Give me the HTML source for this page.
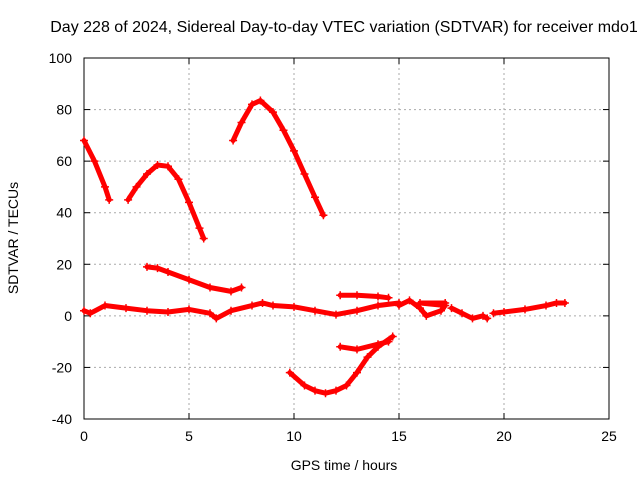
<!DOCTYPE html>
<html><head><meta charset="utf-8"><style>
body{margin:0;background:#fff;}
svg{display:block;font-family:"Liberation Sans",sans-serif;}
</style></head><body>
<svg id="chart" width="640" height="480">
<text x="344" y="32" font-size="16" text-anchor="middle">Day 228 of 2024, Sidereal Day-to-day VTEC variation (SDTVAR) for receiver mdo1</text>
<g id="grid"></g>
<g id="axes"></g>
<g id="series"></g>
<text x="344" y="470" font-size="14" text-anchor="middle">GPS time / hours</text>
<text transform="translate(18,238) rotate(-90)" font-size="14" text-anchor="middle">SDTVAR / TECUs</text>
</svg>
<script>
const xTicks=[0,5,10,15,20,25];
const yTicks=[-40,-20,0,20,40,60,80,100];
const seg1=[[0,68],[0.5,60],[1,50],[1.2,45]];
const seg2=[[2.1,45],[2.5,50],[3,55],[3.5,58.5],[4,58],[4.5,53],[5,44],[5.5,34],[5.7,30]];
const seg3=[[7.1,68],[7.5,75],[8,82],[8.4,83.5],[9,79],[9.5,72],[10,64],[10.5,55],[11,46],[11.4,39]];
const seg4=[[3,19],[3.5,18.5],[4,17],[5,14],[6,11],[7,9.5],[7.5,11]];
const seg5=[[0,2],[0.3,1],[1,4],[2,3],[3,2],[4,1.5],[5,2.5],[6,1],[6.3,-1],[7,2],[8,4],[8.5,5],[9,4],[10,3.5],[11,2],[12,0.5],[13,2],[14,4],[15,5]];
const seg6=[[12.2,8],[13,8],[14,7.5],[14.5,7]];
const seg7=[[15,4],[15.5,6],[16,3],[16.3,0],[17,2],[17.2,4],[16,5],[17.2,5]];
const seg8=[[17.5,3],[18,1],[18.5,-1],[19,0],[19.2,-1]];
const seg9=[[19.5,1],[20,1.5],[21,2.5],[22,4],[22.5,5],[22.9,5]];
const seg10=[[9.8,-22],[10.5,-27],[11,-29],[11.5,-30],[12,-29],[12.5,-27],[13,-22],[13.5,-16],[14,-12],[14.7,-8]];
const seg11=[[12.2,-12],[13,-13],[14,-11],[14.5,-10]];
const segments=[seg1,seg2,seg3,seg4,seg5,seg6,seg7,seg8,seg9,seg10,seg11];

const L=84,R=609,T=58,B=419;
const xs=v=>L+(v-0)/25*(R-L);
const ys=v=>B-(v+40)/140*(B-T);
const NS="http://www.w3.org/2000/svg";
function mk(tag,attrs,parent){const e=document.createElementNS(NS,tag);for(const k in attrs)e.setAttribute(k,attrs[k]);parent.appendChild(e);return e;}
const grid=document.getElementById('grid'),axes=document.getElementById('axes'),ser=document.getElementById('series');
xTicks.forEach(t=>{const x=xs(t);
 if(t>0&&t<25){const g=mk('line',{x1:x,x2:x,y1:T,y2:B,stroke:'#aaa','stroke-dasharray':'2,3'},grid);}
 mk('line',{x1:x,x2:x,y1:B,y2:B-6,stroke:'#000'},axes);mk('line',{x1:x,x2:x,y1:T,y2:T+6,stroke:'#000'},axes);
 const tx=mk('text',{x:x,y:B+22,'font-size':14,'text-anchor':'middle'},axes);tx.textContent=t;
 });
yTicks.forEach(t=>{const y=ys(t);
 if(t>-40&&t<100){const g=mk('line',{x1:L,x2:R,y1:y,y2:y,stroke:'#aaa','stroke-dasharray':'2,3'},grid);}
 mk('line',{x1:L,x2:L+6,y1:y,y2:y,stroke:'#000'},axes);mk('line',{x1:R,x2:R-6,y1:y,y2:y,stroke:'#000'},axes);
 const tx=mk('text',{x:L-12,y:y+5,'font-size':14,'text-anchor':'end'},axes);tx.textContent=t;
 });
const fr=mk('rect',{x:L,y:T,width:R-L,height:B-T,fill:'none',stroke:'#000'},axes);

segments.forEach((s,i)=>{
 const pl=mk('polyline',{points:s.map(p=>xs(p[0])+','+ys(p[1])).join(' '),fill:'none',stroke:'#f00','stroke-width':5,'stroke-linejoin':'round','stroke-linecap':'round'},ser);
 
 
 s.forEach(p=>{const x=xs(p[0]),y=ys(p[1]);
  const m=mk('path',{d:`M${x-4},${y}H${x+4}M${x},${y-4}V${y+4}`,stroke:'#f00','stroke-width':1.5},ser);
  
  });
});
</script>
</body></html>
